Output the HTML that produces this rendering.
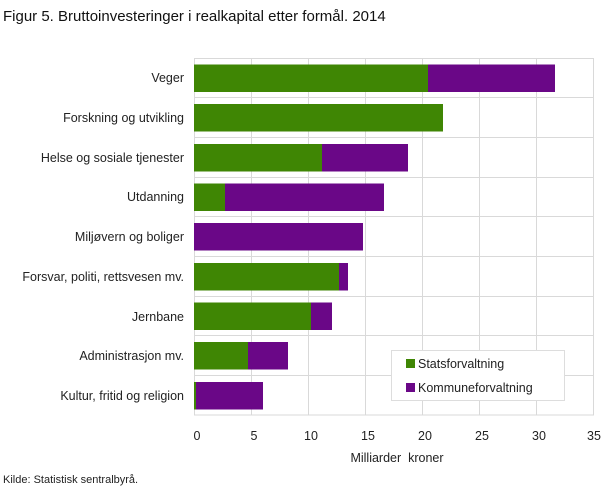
<!DOCTYPE html>
<html><head><meta charset="utf-8"><style>
body{margin:0;background:#fff;font-family:"Liberation Sans",sans-serif;}
</style></head><body>
<svg width="609" height="488" xmlns="http://www.w3.org/2000/svg" font-family="Liberation Sans, sans-serif" font-size="12.5" fill="#222">
<text x="3" y="21" font-size="15" fill="#111">Figur 5. Bruttoinvesteringer i realkapital etter formål. 2014</text>
<g stroke="#d9d9d9" stroke-width="1">
<rect x="194.5" y="58.5" width="399" height="356.5" fill="none"/>
<line x1="251.5" y1="58" x2="251.5" y2="415"/><line x1="308.5" y1="58" x2="308.5" y2="415"/>
<line x1="365.5" y1="58" x2="365.5" y2="415"/><line x1="422.5" y1="58" x2="422.5" y2="415"/>
<line x1="479.5" y1="58" x2="479.5" y2="415"/><line x1="536.5" y1="58" x2="536.5" y2="415"/>
<line x1="194" y1="97.5" x2="594" y2="97.5"/><line x1="194" y1="137.5" x2="594" y2="137.5"/>
<line x1="194" y1="177.5" x2="594" y2="177.5"/><line x1="194" y1="216.5" x2="594" y2="216.5"/>
<line x1="194" y1="256.5" x2="594" y2="256.5"/><line x1="194" y1="296.5" x2="594" y2="296.5"/>
<line x1="194" y1="335.5" x2="594" y2="335.5"/><line x1="194" y1="375.5" x2="594" y2="375.5"/>
</g>
<g>
<rect x="194" y="64.5" width="234" height="27.5" fill="#3f8604"/><rect x="428" y="64.5" width="127" height="27.5" fill="#6a0787"/>
<rect x="194" y="104" width="249" height="27.5" fill="#3f8604"/>
<rect x="194" y="144" width="128" height="27.5" fill="#3f8604"/><rect x="322" y="144" width="86" height="27.5" fill="#6a0787"/>
<rect x="194" y="183.5" width="31" height="27.5" fill="#3f8604"/><rect x="225" y="183.5" width="159" height="27.5" fill="#6a0787"/>
<rect x="194" y="223" width="169" height="27.5" fill="#6a0787"/>
<rect x="194" y="263" width="145" height="27.5" fill="#3f8604"/><rect x="339" y="263" width="9" height="27.5" fill="#6a0787"/>
<rect x="194" y="302.5" width="117" height="27.5" fill="#3f8604"/><rect x="311" y="302.5" width="21" height="27.5" fill="#6a0787"/>
<rect x="194" y="342" width="54" height="27.5" fill="#3f8604"/><rect x="248" y="342" width="40" height="27.5" fill="#6a0787"/>
<rect x="194" y="382" width="2" height="27.5" fill="#3f8604"/><rect x="196" y="382" width="67" height="27.5" fill="#6a0787"/>
</g>
<g text-anchor="end">
<text x="184" y="82">Veger</text>
<text x="184" y="122">Forskning og utvikling</text>
<text x="184" y="162">Helse og sosiale tjenester</text>
<text x="184" y="201">Utdanning</text>
<text x="184" y="241">Miljøvern og boliger</text>
<text x="184" y="281">Forsvar, politi, rettsvesen mv.</text>
<text x="184" y="321">Jernbane</text>
<text x="184" y="360">Administrasjon mv.</text>
<text x="184" y="400">Kultur, fritid og religion</text>
</g>
<g text-anchor="middle">
<text x="197" y="440">0</text><text x="254" y="440">5</text><text x="311" y="440">10</text>
<text x="368" y="440">15</text><text x="425" y="440">20</text><text x="482" y="440">25</text>
<text x="539" y="440">30</text><text x="594" y="440">35</text>
<text x="397" y="462">Milliarder&#160; kroner</text>
</g>
<rect x="391.5" y="350.5" width="173" height="50" fill="#fff" stroke="#ddd"/>
<rect x="406" y="359" width="9" height="9" fill="#3f8604"/>
<text x="418" y="368">Statsforvaltning</text>
<rect x="406" y="383" width="9" height="9" fill="#6a0787"/>
<text x="418" y="392">Kommuneforvaltning</text>
<text x="3" y="483" font-size="11">Kilde: Statistisk sentralbyrå.</text>
</svg>
</body></html>
